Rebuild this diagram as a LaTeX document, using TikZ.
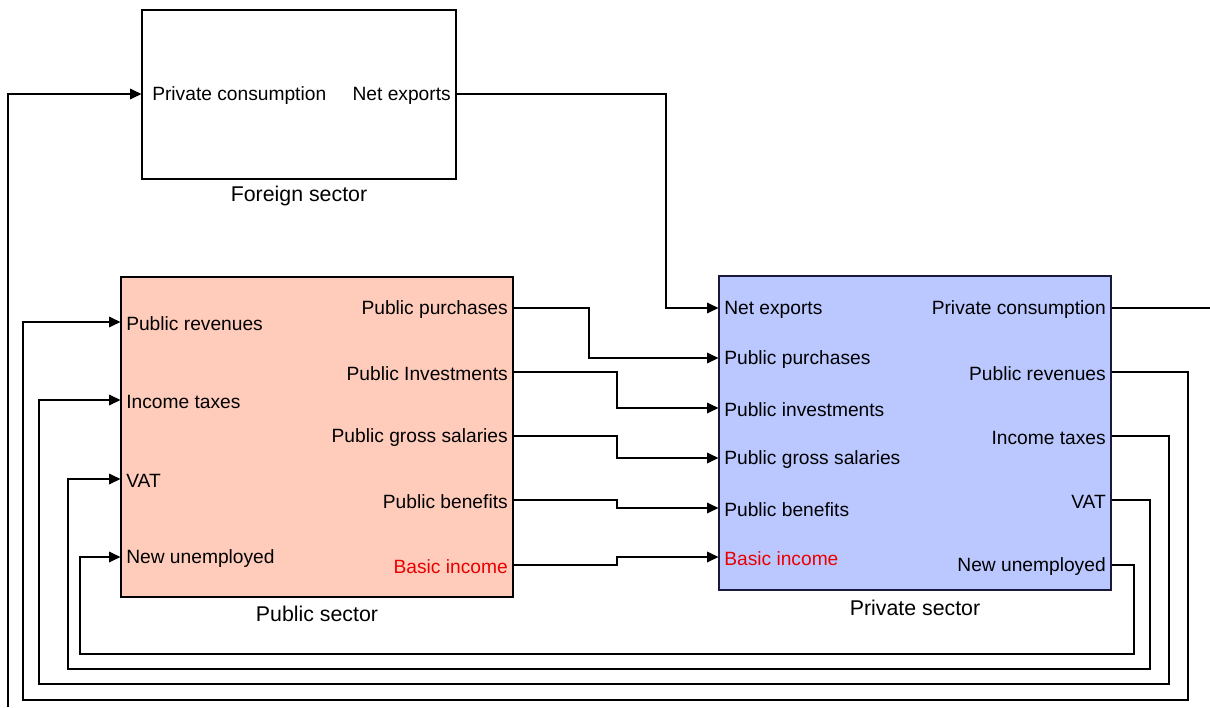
\documentclass[tikz,border=0pt]{standalone}
\usepackage{fontspec}
\setmainfont{Liberation Sans}
\usetikzlibrary{arrows.meta}
\definecolor{pubfill}{RGB}{255,204,188}
\definecolor{privfill}{RGB}{186,200,255}
\definecolor{privdraw}{RGB}{25,25,60}
\definecolor{basicred}{RGB}{235,0,0}
\begin{document}
\begin{tikzpicture}[x=0.75pt,y=-0.75pt,
  box/.style={draw=black, line width=0.9pt, inner sep=0pt},
  port/.style={font=\fontsize{14.4}{17}\selectfont, inner xsep=3.75pt, inner ysep=1pt, yshift=-1.5pt},
  title/.style={font=\fontsize{16}{19}\selectfont, inner sep=1pt},
  wire/.style={draw=black, line width=0.9pt},
  flow/.style={wire, -{Triangle[length=8.5pt,width=8pt]}},
  red/.style={text=basicred}]
\useasboundingbox (0,0) rectangle (1210,707);

% boxes
\node[box, fill=white, minimum width=235.5pt, minimum height=126.75pt] (foreign) at (299,94.5) {};
\node[box, fill=pubfill, minimum width=294pt, minimum height=240pt] (public) at (317,437) {};
\node[box, draw=privdraw, fill=privfill, minimum width=294pt, minimum height=235.5pt] (private) at (915,433) {};

% titles
\node[title] (tForeign) at (299,196) {Foreign sector};
\node[title] (tPublic) at (317,614) {Public sector};
\node[title] (tPrivate) at (915,608) {Private sector};

% foreign ports
\node[port, anchor=west, inner xsep=7.5pt] (fPC) at (142,94) {Private consumption};
\node[port, anchor=east] (fNE) at (456,94) {Net exports};

% public ports
\node[port, anchor=west] (uRev) at (121,322) {Public revenues};
\node[port, anchor=west] (uTax) at (121,400) {Income taxes};
\node[port, anchor=west] (uVAT) at (121,479) {VAT};
\node[port, anchor=west] (uNew) at (121,557) {New unemployed};
\node[port, anchor=east] (uPur) at (513,308) {Public purchases};
\node[port, anchor=east] (uInv) at (513,372) {Public Investments};
\node[port, anchor=east] (uSal) at (513,436) {Public gross salaries};
\node[port, anchor=east] (uBen) at (513,500) {Public benefits};
\node[port, anchor=east, red] (uBas) at (513,565) {Basic income};

% private ports
\node[port, anchor=west] (pNE) at (719,308) {Net exports};
\node[port, anchor=west] (pPur) at (719,358) {Public purchases};
\node[port, anchor=west] (pInv) at (719,408) {Public investments};
\node[port, anchor=west] (pSal) at (719,458) {Public gross salaries};
\node[port, anchor=west] (pBen) at (719,508) {Public benefits};
\node[port, anchor=west, red] (pBas) at (719,557) {Basic income};
\node[port, anchor=east] (pPC) at (1111,308) {Private consumption};
\node[port, anchor=east] (pRev) at (1111,372) {Public revenues};
\node[port, anchor=east] (pTax) at (1111,436) {Income taxes};
\node[port, anchor=east] (pVAT) at (1111,500) {VAT};
\node[port, anchor=east] (pNew) at (1111,565) {New unemployed};

% free ends at the picture border
\coordinate (pcOut) at (1210,308);
\coordinate (pcIn) at (8,707);

% connectors
\draw[flow] (pcIn) -- (8,94) -- (foreign.west |- 0,94);
\draw[wire] (private.east |- 0,308) -- (pcOut);
\draw[flow] (foreign.east |- 0,94) -- (666,94) |- (private.west |- 0,308);

\draw[flow] (public.east |- 0,308) -- (589,308) |- (private.west |- 0,358);
\draw[flow] (public.east |- 0,372) -- (617,372) |- (private.west |- 0,408);
\draw[flow] (public.east |- 0,436) -- (617,436) |- (private.west |- 0,458);
\draw[flow] (public.east |- 0,500) -- (617,500) |- (private.west |- 0,508);
\draw[flow] (public.east |- 0,565) -- (617,565) |- (private.west |- 0,557);

\draw[flow] (private.east |- 0,372) -- (1188,372) -- (1188,700) -- (23,700) |- (public.west |- 0,322);
\draw[flow] (private.east |- 0,436) -- (1169,436) -- (1169,684) -- (39,684) |- (public.west |- 0,400);
\draw[flow] (private.east |- 0,500) -- (1150,500) -- (1150,669) -- (68,669) |- (public.west |- 0,479);
\draw[flow] (private.east |- 0,565) -- (1134,565) -- (1134,654) -- (80,654) |- (public.west |- 0,557);
\end{tikzpicture}
\end{document}
